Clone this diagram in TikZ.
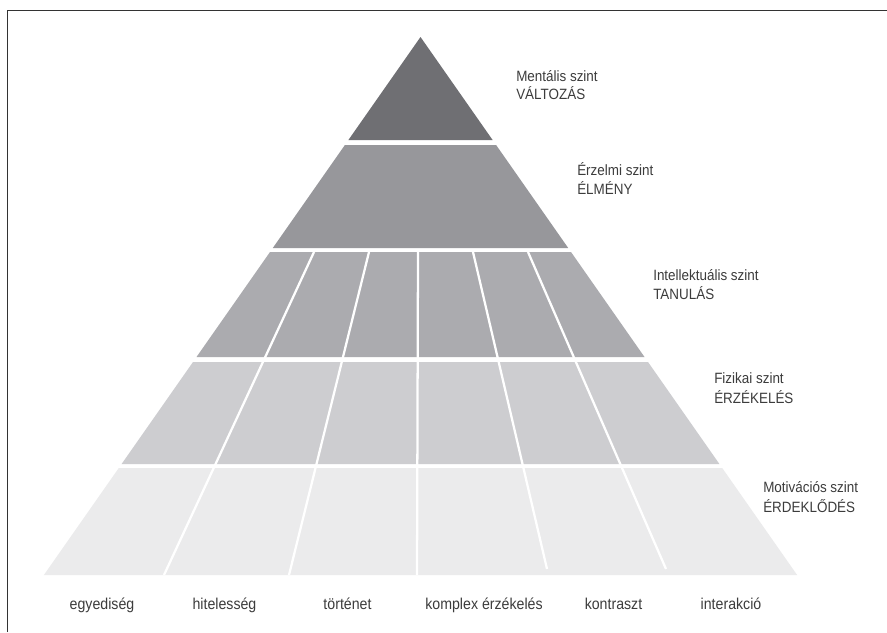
\documentclass[tikz,border=0pt]{standalone}
\usepackage{fontspec}
\setmainfont{Liberation Sans}
\newfontfamily\narrowsans[FakeStretch=0.9]{Liberation Sans}
\begin{document}
\begin{tikzpicture}[x=0.75pt,y=-0.75pt,
  lvlA/.style={fill=lvlcA},
  lvlB/.style={fill=lvlcB},
  lvlC/.style={fill=lvlcC},
  lvlD/.style={fill=lvlcD},
  lvlE/.style={fill=lvlcE},
  divider/.style={draw=white,line width=1.7pt},
  frameline/.style={draw=black!80,line width=1.1pt},
  levellabel/.style={anchor=base west,inner sep=0pt,text=txtgray,font=\narrowsans\fontsize{11.2pt}{13pt}\selectfont},
  itemlabel/.style={anchor=base,inner sep=0pt,text=txtgray,font=\narrowsans\fontsize{11.8pt}{14pt}\selectfont}]
\definecolor{lvlcA}{HTML}{6F6F73}
\definecolor{lvlcB}{HTML}{97979B}
\definecolor{lvlcC}{HTML}{ABABAF}
\definecolor{lvlcD}{HTML}{CDCDD0}
\definecolor{lvlcE}{HTML}{EBEBEC}
\definecolor{txtgray}{HTML}{3C3C3C}
\useasboundingbox (0,0) rectangle (887,632);
\fill[white] (0,0) rectangle (887,632);

% frame
\draw[frameline] (7.5,632) -- (7.5,10.5) -- (887,10.5);

% pyramid levels, top to bottom
\fill[lvlA] (420.5,37) -- (492.6,140) -- (348.4,140) -- cycle;
\fill[lvlB] (344.9,145) -- (496.1,145) -- (568.2,248) -- (272.8,248) -- cycle;
\fill[lvlC] (270,252) -- (571,252) -- (644.5,357) -- (196.5,357) -- cycle;
\fill[lvlD] (193,362) -- (648,362) -- (719.4,464) -- (121.6,464) -- cycle;
\fill[lvlE] (118.8,468) -- (722.2,468) -- (797.1,575) -- (43.9,575) -- cycle;

% column dividers through the three lower levels
\coordinate (d1t) at (314,252);   \coordinate (d1b) at (164,575);
\coordinate (d2t) at (369,252);   \coordinate (d2b) at (289,575);
\coordinate (d3t) at (418,252);   \coordinate (d3b) at (417,575);
\coordinate (d4t) at (473,252);   \coordinate (d4b) at (547,569);
\coordinate (d5t) at (528,252);   \coordinate (d5b) at (666,569);
\foreach \i in {1,...,5} \draw[divider] (d\i t) -- (d\i b);

% level labels
\node[levellabel] (m1) at (516,81)  {Mentális szint};
\node[levellabel] (m2) at (516,99)  {VÁLTOZÁS};
\node[levellabel] (e1) at (577,175) {Érzelmi szint};
\node[levellabel] (e2) at (577,194) {ÉLMÉNY};
\node[levellabel] (t1) at (653,280) {Intellektuális szint};
\node[levellabel] (t2) at (653,299) {TANULÁS};
\node[levellabel] (f1) at (714,383) {Fizikai szint};
\node[levellabel] (f2) at (714,403) {ÉRZÉKELÉS};
\node[levellabel] (v1) at (763,492) {Motivációs szint};
\node[levellabel] (v2) at (763,512) {ÉRDEKLŐDÉS};

% column labels
\node[itemlabel] (c1) at (102,609)   {egyediség};
\node[itemlabel] (c2) at (224.5,609) {hitelesség};
\node[itemlabel] (c3) at (347.5,609) {történet};
\node[itemlabel] (c4) at (484,609)   {komplex érzékelés};
\node[itemlabel] (c5) at (613.5,609) {kontraszt};
\node[itemlabel] (c6) at (731,609)   {interakció};
\end{tikzpicture}
\end{document}
